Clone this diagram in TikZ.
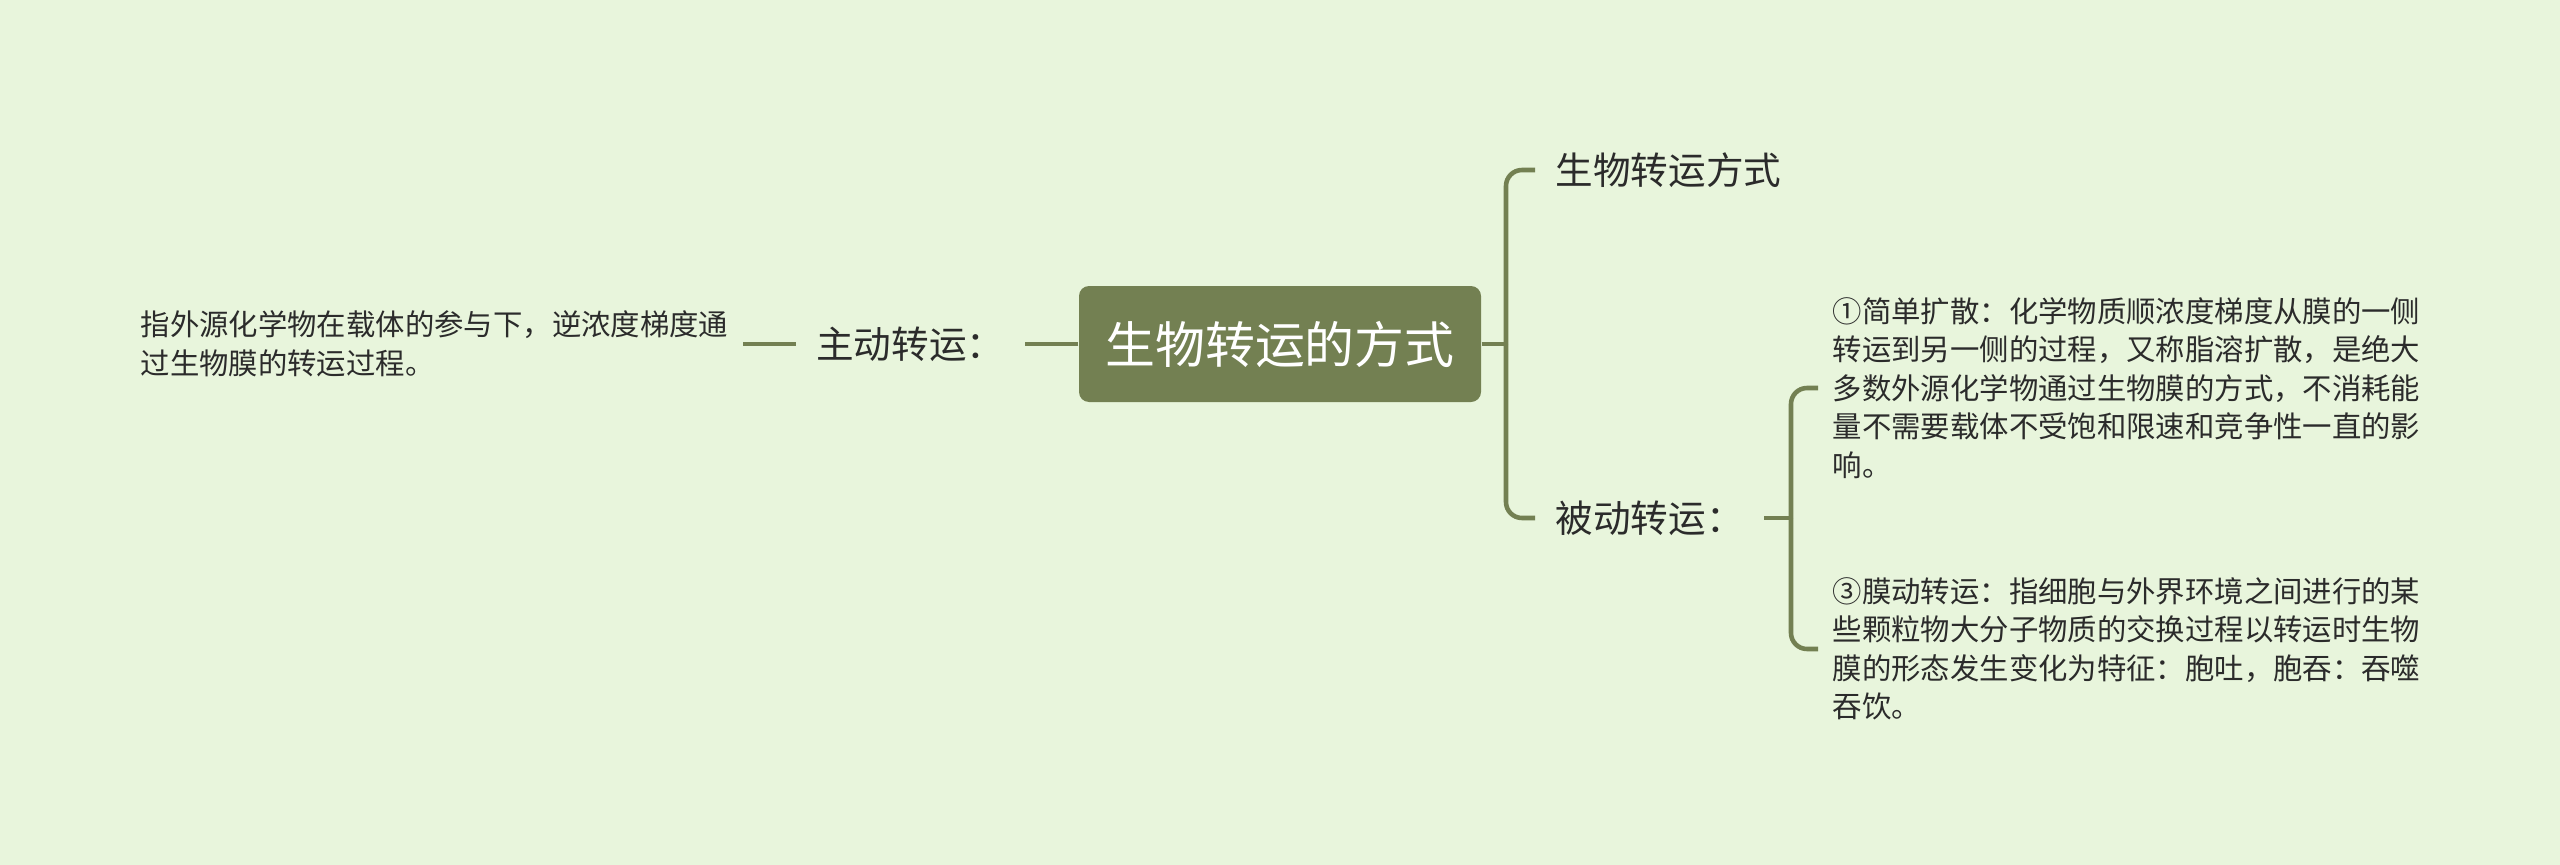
\documentclass[tikz,border=0pt]{standalone}
\usepackage{fontspec}
\setmainfont{Noto Sans CJK SC}
\usepackage{xcolor}
\usetikzlibrary{positioning}
\definecolor{bgcol}{HTML}{E8F5DC}
\definecolor{olive}{HTML}{738052}
\definecolor{ink}{HTML}{2B2B2B}

\begin{document}
\begin{tikzpicture}[x=0.1mm,y=-0.1mm]
	\tikzstyle{root}
	  =[fill=olive, rounded corners=1mm, minimum width=40.2mm,
	  minimum height=11.6mm, text=white, font=\fontsize{14.2}{17}\selectfont]
	\tikzstyle{topic}
	  =[inner sep=2mm, text=ink, font=\fontsize{10.7}{13}\selectfont]
	\tikzstyle{leaf}
	  =[inner sep=1.4mm, text=ink, align=left,
	  font=\fontsize{8.36}{10.96}\selectfont]
	\tikzstyle{link}
	  =[draw=olive, line width=1.3pt, rounded corners=1.6mm]

	\fill[bgcol] (0,0) rectangle (2560,865);

	\node[root] (core)
	  at (1280,344) {生物转运的方式};

	% left branch
	\node[topic, anchor=east] (active)
	  at (1025,344) {主动转运：};
	\node[leaf, anchor=east] (activeleaf)
	  at (743,344) {指外源化学物在载体的参与下，逆浓度梯度通\\过生物膜的转运过程。};

	% right branch
	\coordinate (jr) at (1506,344);
	\node[topic, anchor=west] (mode)
	  at (1535,170) {生物转运方式};
	\node[topic, anchor=west] (passive)
	  at (1535,518) {被动转运：};
	\coordinate (jp) at (1791,518);
	\node[leaf, anchor=west] (simple)
	  at (1818,388) {①简单扩散：化学物质顺浓度梯度从膜的一侧\\转运到另一侧的过程，又称脂溶扩散，是绝大\\多数外源化学物通过生物膜的方式，不消耗能\\量不需要载体不受饱和限速和竞争性一直的影\\响。};
	\node[leaf, anchor=west] (membrane)
	  at (1818,649) {③膜动转运：指细胞与外界环境之间进行的某\\些颗粒物大分子物质的交换过程以转运时生物\\膜的形态发生变化为特征：胞吐，胞吞：吞噬\\吞饮。};

	\draw[link] (core.west) -- (active.east);
	\draw[link] (active.west) -- (activeleaf.east);
	\draw[link] (core.east) -- (jr);
	\draw[link] (jr) |- (mode.west);
	\draw[link] (jr) |- (passive.west);
	\draw[link] (passive.east) -- (jp);
	\draw[link] (jp) |- (simple.west);
	\draw[link] (jp) |- (membrane.west);
\end{tikzpicture}
\end{document}
